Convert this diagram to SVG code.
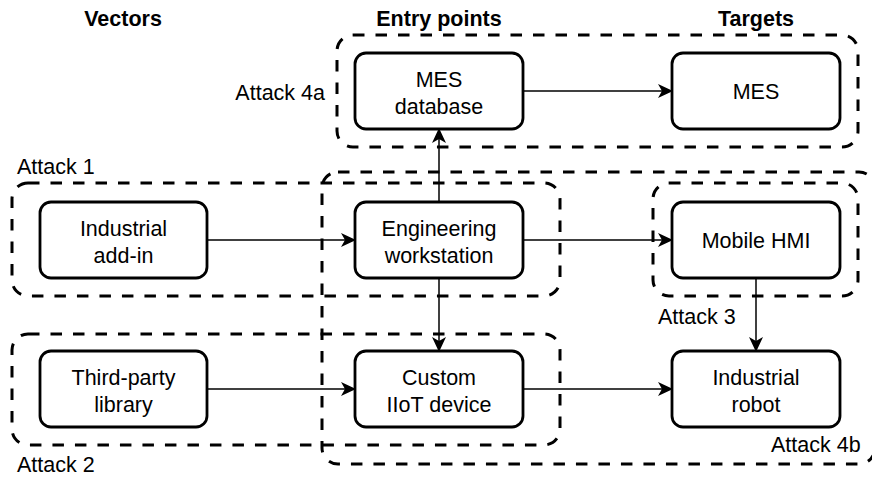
<svg xmlns="http://www.w3.org/2000/svg" width="872" height="477" viewBox="0 0 872 477">
<defs>
<style>
text{font-family:"Liberation Sans",Arial,Helvetica,sans-serif;font-size:21.5px;fill:#000}
.h{font-weight:bold;text-anchor:middle}
.c{text-anchor:middle}
.node{fill:#fff;stroke:#000;stroke-width:2.8}
.grp{fill:none;stroke:#000;stroke-width:3;stroke-dasharray:11.5 11}
.edge{fill:none;stroke:#000;stroke-width:1.5}
</style>
<marker id="arr" viewBox="0 0 15 15" refX="14" refY="7.5" markerWidth="15" markerHeight="15" markerUnits="userSpaceOnUse" orient="auto">
<path d="M0,0.5 L15,7.5 L0,14.5 L4,7.5 Z" fill="#000"/>
</marker>
</defs>
<rect width="872" height="477" fill="#fff"/>

<g id="headers">
<text class="h" x="123" y="26">Vectors</text>
<text class="h" x="439" y="26">Entry points</text>
<text class="h" x="756" y="26">Targets</text>
</g>

<g id="groups">
<g id="attack4b"><rect class="grp" x="322" y="172" width="553" height="292" rx="16"/><text x="771" y="452">Attack 4b</text></g>
<g id="attack4a"><rect class="grp" x="337" y="35" width="521" height="112" rx="16"/><text x="325" y="100" text-anchor="end">Attack 4a</text></g>
<g id="attack1"><rect class="grp" x="12" y="183" width="548" height="113" rx="16"/><text x="17" y="174">Attack 1</text></g>
<g id="attack2"><rect class="grp" x="12" y="334" width="548" height="111" rx="16"/><text x="17" y="472">Attack 2</text></g>
<g id="attack3"><rect class="grp" x="653" y="183" width="205" height="113" rx="16"/><text x="658" y="324">Attack 3</text></g>
</g>

<g id="connectors">
<path class="edge" d="M207,240 H355" marker-end="url(#arr)"/>
<path class="edge" d="M523,240 H672" marker-end="url(#arr)"/>
<path class="edge" d="M439,202 V129" marker-end="url(#arr)"/>
<path class="edge" d="M439,278 V351" marker-end="url(#arr)"/>
<path class="edge" d="M207,389 H355" marker-end="url(#arr)"/>
<path class="edge" d="M523,389 H672" marker-end="url(#arr)"/>
<path class="edge" d="M756,278 V351" marker-end="url(#arr)"/>
<path class="edge" d="M523,91 H672" marker-end="url(#arr)"/>
</g>

<g id="industrial-addin"><rect class="node" x="40" y="202" width="167" height="76" rx="11"/><text class="c" x="123.5" y="236">Industrial</text><text class="c" x="123.5" y="263">add-in</text></g>
<g id="third-party-library"><rect class="node" x="40" y="351" width="167" height="76" rx="11"/><text class="c" x="123.5" y="385">Third-party</text><text class="c" x="123.5" y="412">library</text></g>
<g id="mes-database"><rect class="node" x="355" y="53" width="168" height="76" rx="11"/><text class="c" x="439" y="87">MES</text><text class="c" x="439" y="114">database</text></g>
<g id="engineering-workstation"><rect class="node" x="355" y="202" width="168" height="76" rx="11"/><text class="c" x="439" y="236">Engineering</text><text class="c" x="439" y="263">workstation</text></g>
<g id="custom-iiot-device"><rect class="node" x="355" y="351" width="168" height="76" rx="11"/><text class="c" x="439" y="385">Custom</text><text class="c" x="439" y="412">IIoT device</text></g>
<g id="mes"><rect class="node" x="672" y="53" width="168" height="76" rx="11"/><text class="c" x="756" y="99">MES</text></g>
<g id="mobile-hmi"><rect class="node" x="672" y="202" width="168" height="76" rx="11"/><text class="c" x="756" y="248">Mobile HMI</text></g>
<g id="industrial-robot"><rect class="node" x="672" y="351" width="168" height="76" rx="11"/><text class="c" x="756" y="385">Industrial</text><text class="c" x="756" y="412">robot</text></g>
</svg>
